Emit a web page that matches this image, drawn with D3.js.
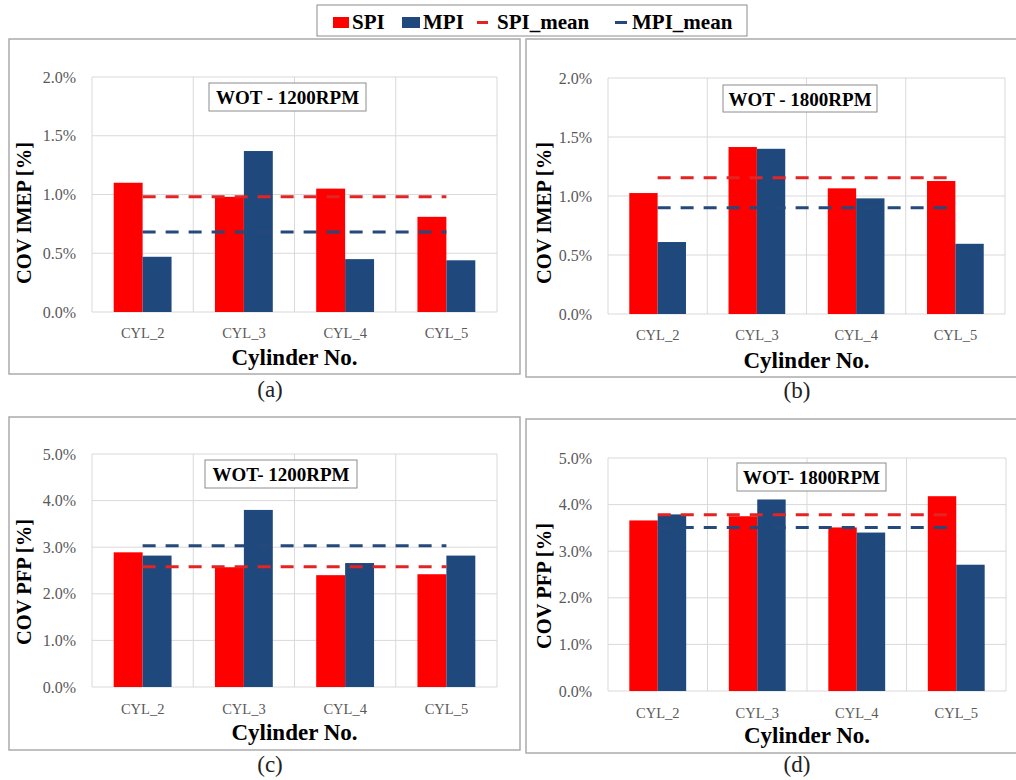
<!DOCTYPE html>
<html>
<head>
<meta charset="utf-8">
<script src="https://cdn.jsdelivr.net/npm/d3@7"></script>
<style>
  html, body { margin: 0; padding: 0; background: #fff; }
  svg { display: block; }
</style>
</head>
<body>
<svg id="chart" width="1016" height="780"></svg>
<script>
// ---------- DATA ----------
const categories = ["CYL_2", "CYL_3", "CYL_4", "CYL_5"];
const seriesNames = ["SPI", "MPI"];

const imep1200SPI = [1.10, 0.98, 1.05, 0.81];
const imep1200MPI = [0.47, 1.37, 0.45, 0.44];
const imep1200Mean = [0.98, 0.68];   // SPI_mean, MPI_mean

const imep1800SPI = [1.025, 1.415, 1.065, 1.127];
const imep1800MPI = [0.61, 1.40, 0.98, 0.595];
const imep1800Mean = [1.155, 0.90];

const pfp1200SPI = [2.89, 2.57, 2.40, 2.42];
const pfp1200MPI = [2.82, 3.80, 2.66, 2.82];
const pfp1200Mean = [2.58, 3.03];

const pfp1800SPI = [3.66, 3.75, 3.51, 4.18];
const pfp1800MPI = [3.79, 4.11, 3.40, 2.71];
const pfp1800Mean = [3.78, 3.51];

const imepTicks = [0, 0.5, 1.0, 1.5, 2.0];
const pfpTicks = [0, 1, 2, 3, 4, 5];

const panelTitles = ["WOT - 1200RPM", "WOT - 1800RPM", "WOT- 1200RPM", "WOT- 1800RPM"];
const panelLabels = ["(a)", "(b)", "(c)", "(d)"];
const yTitles = ["COV IMEP [%]", "COV IMEP [%]", "COV PFP [%]", "COV PFP [%]"];
const xTitle = "Cylinder No.";
const legendNames = ["SPI", "MPI", "SPI_mean", "MPI_mean"];

// ---------- STYLE ----------
const colors = { SPI: "#FF0000", MPI: "#1F497D", SPI_mean: "#E42323", MPI_mean: "#24497A" };
const serif = "'Liberation Serif', 'Times New Roman', serif";

// ---------- LAYOUT ----------
const panels = [
  { spi: imep1200SPI, mpi: imep1200MPI, mean: imep1200Mean, ticks: imepTicks,
    frame: [9, 39, 511, 335], plot: [92, 497, 77, 312], yTitleX: 24, yTitleY: 213,
    box: [209, 83, 157, 28], xTickY: 338, xTitleY: 365, label: [270, 397] },
  { spi: imep1800SPI, mpi: imep1800MPI, mean: imep1800Mean, ticks: imepTicks,
    frame: [526, 39, 495, 338], plot: [608, 1005, 78, 314], yTitleX: 544, yTitleY: 213,
    box: [723, 85, 154, 27], xTickY: 340, xTitleY: 368, label: [797, 398] },
  { spi: pfp1200SPI, mpi: pfp1200MPI, mean: pfp1200Mean, ticks: pfpTicks,
    frame: [9, 417, 511, 333], plot: [92, 497, 454, 687], yTitleX: 24, yTitleY: 582,
    box: [205, 460, 152, 28], xTickY: 714, xTitleY: 740, label: [270, 772] },
  { spi: pfp1800SPI, mpi: pfp1800MPI, mean: pfp1800Mean, ticks: pfpTicks,
    frame: [526, 419, 495, 334], plot: [608, 1006, 458, 691], yTitleX: 544, yTitleY: 586,
    box: [737, 463, 149, 28], xTickY: 718, xTitleY: 743, label: [797, 772] }
];

const svg = d3.select("#chart");

panels.forEach((p, i) => {
  const g = svg.append("g");
  const [fx, fy, fw, fh] = p.frame;
  g.append("rect").attr("x", fx).attr("y", fy).attr("width", fw).attr("height", fh)
    .attr("fill", "#fff").attr("stroke", "#ababab").attr("stroke-width", 1.5);

  const [l, r, t, b] = p.plot;
  const x0 = d3.scaleBand().domain(categories).range([l, r]).paddingInner(0).paddingOuter(0);
  const y = d3.scaleLinear().domain([p.ticks[0], p.ticks[p.ticks.length - 1]]).range([b, t]);
  const bw = x0.bandwidth();
  const barW = bw / 3.5;
  const x1 = d3.scaleBand().domain(seriesNames).range([-barW, barW]);

  // gridlines
  g.append("g").selectAll("line.h").data(p.ticks).join("line")
    .attr("x1", l).attr("x2", r).attr("y1", d => y(d)).attr("y2", d => y(d))
    .attr("stroke", "#d9d9d9").attr("stroke-width", 1);
  g.append("g").selectAll("line.v").data(categories.concat(["__end"])).join("line")
    .attr("x1", (d, k) => l + k * bw).attr("x2", (d, k) => l + k * bw)
    .attr("y1", t).attr("y2", b)
    .attr("stroke", "#d9d9d9").attr("stroke-width", 1);

  // y axis
  const yAxis = d3.axisLeft(y).tickValues(p.ticks).tickSize(0).tickPadding(16)
    .tickFormat(d => d.toFixed(1) + "%");
  const ya = g.append("g").attr("transform", `translate(${l},0)`).call(yAxis);
  ya.select(".domain").remove();
  ya.selectAll("text").attr("font-family", serif).attr("font-size", 16).attr("fill", "#595959");

  // x axis labels
  const xAxis = d3.axisBottom(x0).tickSize(0).tickPadding(0);
  const xa = g.append("g").attr("transform", `translate(0,${p.xTickY})`).call(xAxis);
  xa.select(".domain").remove();
  xa.selectAll("text").attr("font-family", serif).attr("font-size", 14.5).attr("fill", "#595959")
    .attr("dy", 0);

  // bars
  const rows = categories.map((c, k) => ({ cat: c, SPI: p.spi[k], MPI: p.mpi[k] }));
  const grp = g.append("g").selectAll("g").data(rows).join("g")
    .attr("transform", d => `translate(${x0(d.cat) + bw / 2},0)`);
  grp.selectAll("rect").data(d => seriesNames.map(s => ({ s, v: d[s] }))).join("rect")
    .attr("x", d => x1(d.s)).attr("width", x1.bandwidth())
    .attr("y", d => y(d.v)).attr("height", d => y(0) - y(d.v))
    .attr("fill", d => colors[d.s]);

  // mean lines
  const xa0 = x0(categories[0]) + bw / 2;
  const xa1 = x0(categories[categories.length - 1]) + bw / 2;
  [["SPI_mean", p.mean[0]], ["MPI_mean", p.mean[1]]].forEach(([k, v]) => {
    g.append("line").attr("x1", xa0).attr("x2", xa1).attr("y1", y(v)).attr("y2", y(v))
      .attr("stroke", colors[k]).attr("stroke-width", 3).attr("stroke-dasharray", "13,10");
  });

  // title box
  const [bx, by, bwid, bh] = p.box;
  g.append("rect").attr("x", bx).attr("y", by).attr("width", bwid).attr("height", bh)
    .attr("fill", "#fff").attr("stroke", "#8c8c8c").attr("stroke-width", 1);
  g.append("text").attr("x", bx + bwid / 2).attr("y", by + bh / 2 + 7)
    .attr("text-anchor", "middle").attr("font-family", serif).attr("font-weight", "bold")
    .attr("font-size", 19).attr("fill", "#000").text(panelTitles[i]);

  // y title
  g.append("text").attr("transform", `translate(${p.yTitleX + 7},${p.yTitleY}) rotate(-90)`)
    .attr("text-anchor", "middle").attr("font-family", serif).attr("font-weight", "bold")
    .attr("font-size", 20.5).attr("fill", "#000").text(yTitles[i]);

  // x title
  g.append("text").attr("x", (l + r) / 2).attr("y", p.xTitleY)
    .attr("text-anchor", "middle").attr("font-family", serif).attr("font-weight", "bold")
    .attr("font-size", 23).attr("fill", "#000").text(xTitle);

  // panel label
  svg.append("text").attr("x", p.label[0]).attr("y", p.label[1])
    .attr("text-anchor", "middle").attr("font-family", serif)
    .attr("font-size", 23).attr("fill", "#222").text(panelLabels[i]);
});

// ---------- LEGEND ----------
const lg = svg.append("g");
lg.append("rect").attr("x", 317).attr("y", 5).attr("width", 430).attr("height", 31)
  .attr("fill", "#fff").attr("stroke", "#8c8c8c").attr("stroke-width", 1);
const legendItems = [
  { name: legendNames[0], type: "rect", mx: 333, mw: 16, tx: 352 },
  { name: legendNames[1], type: "rect", mx: 402, mw: 18, tx: 423 },
  { name: legendNames[2], type: "line", mx: 477, mw: 11, tx: 497 },
  { name: legendNames[3], type: "line", mx: 615, mw: 12, tx: 632 }
];
legendItems.forEach(it => {
  if (it.type === "rect") {
    lg.append("rect").attr("x", it.mx).attr("y", 17).attr("width", it.mw).attr("height", 11)
      .attr("fill", colors[it.name]);
  } else {
    lg.append("line").attr("x1", it.mx).attr("x2", it.mx + it.mw).attr("y1", 22.5).attr("y2", 22.5)
      .attr("stroke", colors[it.name]).attr("stroke-width", 3);
  }
  lg.append("text").attr("x", it.tx).attr("y", 29).attr("font-family", serif)
    .attr("font-weight", "bold").attr("font-size", 21).attr("fill", "#000").text(it.name);
});
</script>
</body>
</html>
